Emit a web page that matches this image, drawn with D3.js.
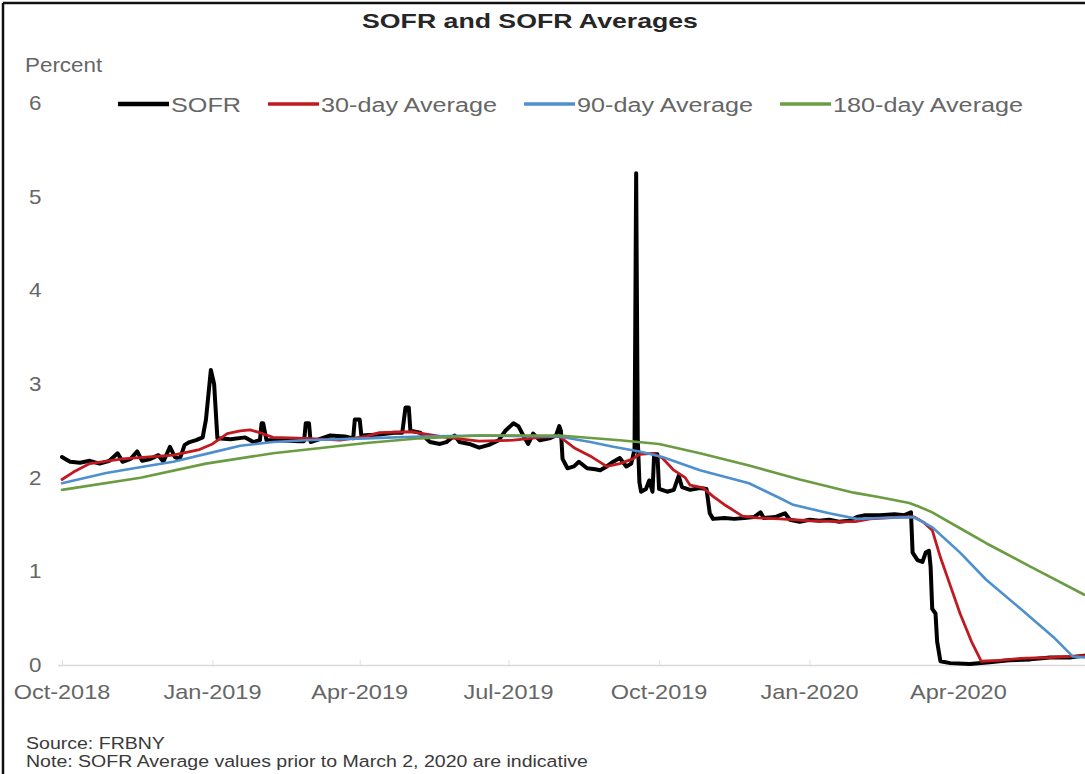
<!DOCTYPE html>
<html>
<head>
<meta charset="utf-8">
<script src="https://cdn.jsdelivr.net/npm/d3@7"></script>
<style>
  html, body { margin: 0; padding: 0; background: #fff; }
  svg { display: block; font-family: "Liberation Sans", Arial, sans-serif; }
</style>
</head>
<body>
<svg id="chart" width="1085" height="774"></svg>
<script>
// ---------------- DATA ----------------
const seriesNames = ["SOFR", "30-day Average", "90-day Average", "180-day Average"];

const sofr = [
  ["2018-10-01",2.22],["2018-10-03",2.20],["2018-10-06",2.17],["2018-10-12",2.16],["2018-10-18",2.18],
  ["2018-10-24",2.15],["2018-10-30",2.18],["2018-11-04",2.26],["2018-11-07",2.17],["2018-11-12",2.20],
  ["2018-11-16",2.28],["2018-11-19",2.18],["2018-11-24",2.20],["2018-11-29",2.24],["2018-12-02",2.17],
  ["2018-12-06",2.33],["2018-12-09",2.22],["2018-12-12",2.20],["2018-12-15",2.35],["2018-12-18",2.38],
  ["2018-12-22",2.40],["2018-12-26",2.43],["2018-12-28",2.62],["2018-12-31",3.15],["2019-01-02",3.00],
  ["2019-01-04",2.42],["2019-01-12",2.41],["2019-01-21",2.43],["2019-01-26",2.38],["2019-01-30",2.40],
  ["2019-01-31",2.58],["2019-02-01",2.58],["2019-02-03",2.40],["2019-02-11",2.40],["2019-02-23",2.39],
  ["2019-02-26",2.39],["2019-02-27",2.58],["2019-03-01",2.58],["2019-03-02",2.38],["2019-03-14",2.45],
  ["2019-03-23",2.44],["2019-03-28",2.42],["2019-03-29",2.62],["2019-04-01",2.62],["2019-04-02",2.45],
  ["2019-04-13",2.46],["2019-04-22",2.48],["2019-04-27",2.48],["2019-04-29",2.75],["2019-05-01",2.75],
  ["2019-05-02",2.50],["2019-05-08",2.48],["2019-05-14",2.38],["2019-05-20",2.36],["2019-05-24",2.38],
  ["2019-05-29",2.45],["2019-06-01",2.38],["2019-06-07",2.36],["2019-06-13",2.32],["2019-06-19",2.35],
  ["2019-06-25",2.40],["2019-06-29",2.50],["2019-07-04",2.58],["2019-07-07",2.55],["2019-07-10",2.45],
  ["2019-07-13",2.36],["2019-07-16",2.47],["2019-07-20",2.40],["2019-07-26",2.42],["2019-07-30",2.45],
  ["2019-08-01",2.55],["2019-08-02",2.50],["2019-08-03",2.20],["2019-08-06",2.10],["2019-08-10",2.12],
  ["2019-08-13",2.17],["2019-08-18",2.10],["2019-08-23",2.09],["2019-08-26",2.08],["2019-08-30",2.12],
  ["2019-09-03",2.17],["2019-09-07",2.21],["2019-09-11",2.12],["2019-09-14",2.15],["2019-09-16",2.30],
  ["2019-09-17",5.25],["2019-09-18",2.40],["2019-09-19",1.95],["2019-09-20",1.85],["2019-09-23",1.88],
  ["2019-09-25",1.97],["2019-09-27",1.85],["2019-09-28",2.25],["2019-09-30",2.25],["2019-10-01",1.88],
  ["2019-10-06",1.85],["2019-10-10",1.87],["2019-10-13",2.02],["2019-10-15",1.90],["2019-10-20",1.87],
  ["2019-10-26",1.89],["2019-10-30",1.88],["2019-11-01",1.62],["2019-11-03",1.56],["2019-11-10",1.57],
  ["2019-11-16",1.56],["2019-11-22",1.57],["2019-11-28",1.58],["2019-12-02",1.63],["2019-12-04",1.57],
  ["2019-12-11",1.58],["2019-12-14",1.60],["2019-12-17",1.62],["2019-12-20",1.55],["2019-12-26",1.53],
  ["2020-01-01",1.55],["2020-01-07",1.54],["2020-01-13",1.55],["2020-01-19",1.53],["2020-01-25",1.54],
  ["2020-01-30",1.58],["2020-02-04",1.60],["2020-02-13",1.60],["2020-02-22",1.61],["2020-02-28",1.60],
  ["2020-03-03",1.63],["2020-03-04",1.20],["2020-03-07",1.12],["2020-03-10",1.10],["2020-03-12",1.20],
  ["2020-03-14",1.22],["2020-03-15",1.05],["2020-03-16",0.60],["2020-03-18",0.55],["2020-03-19",0.25],
  ["2020-03-21",0.04],["2020-03-27",0.02],["2020-04-08",0.01],["2020-04-20",0.03],["2020-05-02",0.05],
  ["2020-05-15",0.06],["2020-05-27",0.08],["2020-06-08",0.08],["2020-06-17",0.10]
];

const avg30 = [
  ["2018-10-01",1.98],["2018-10-08",2.06],["2018-10-18",2.15],["2018-11-07",2.20],["2018-12-08",2.24],
  ["2018-12-24",2.30],["2019-01-01",2.36],["2019-01-10",2.47],["2019-01-18",2.50],["2019-01-24",2.51],
  ["2019-01-30",2.48],["2019-02-07",2.43],["2019-02-27",2.42],["2019-03-20",2.40],["2019-04-05",2.44],
  ["2019-04-13",2.48],["2019-05-03",2.49],["2019-05-24",2.43],["2019-06-13",2.39],["2019-07-04",2.40],
  ["2019-07-20",2.43],["2019-08-01",2.44],["2019-08-10",2.32],["2019-08-21",2.22],["2019-08-30",2.12],
  ["2019-09-07",2.15],["2019-09-15",2.20],["2019-09-19",2.25],["2019-09-27",2.26],["2019-10-03",2.21],
  ["2019-10-10",2.08],["2019-10-17",2.00],["2019-10-20",1.92],["2019-10-28",1.89],["2019-11-03",1.80],
  ["2019-11-11",1.70],["2019-11-21",1.59],["2019-11-30",1.57],["2019-12-14",1.56],["2020-01-01",1.54],
  ["2020-01-19",1.53],["2020-01-29",1.53],["2020-02-07",1.56],["2020-02-26",1.58],["2020-03-05",1.58],
  ["2020-03-11",1.52],["2020-03-16",1.44],["2020-03-21",1.15],["2020-03-27",0.85],["2020-04-02",0.55],
  ["2020-04-09",0.25],["2020-04-15",0.04],["2020-04-26",0.05],["2020-05-09",0.07],["2020-05-27",0.08],
  ["2020-06-17",0.10]
];

const avg90 = [
  ["2018-10-01",1.94],["2018-10-28",2.05],["2018-11-24",2.13],["2018-12-08",2.17],["2019-01-01",2.27],
  ["2019-01-18",2.34],["2019-02-07",2.38],["2019-02-27",2.40],["2019-04-05",2.42],["2019-05-08",2.44],
  ["2019-06-13",2.45],["2019-08-01",2.44],["2019-08-20",2.38],["2019-09-03",2.33],["2019-09-19",2.28],
  ["2019-10-03",2.22],["2019-10-26",2.08],["2019-11-25",1.94],["2019-12-14",1.78],["2019-12-22",1.71],
  ["2020-01-13",1.62],["2020-01-30",1.56],["2020-02-13",1.57],["2020-03-04",1.58],["2020-03-08",1.55],
  ["2020-03-16",1.47],["2020-04-02",1.20],["2020-04-18",0.91],["2020-05-09",0.60],["2020-05-29",0.30],
  ["2020-06-10",0.09],["2020-06-17",0.08]
];

const avg180 = [
  ["2018-10-01",1.87],["2018-11-18",2.00],["2018-12-28",2.15],["2019-02-07",2.26],["2019-04-05",2.37],
  ["2019-05-08",2.42],["2019-06-13",2.45],["2019-08-01",2.45],["2019-09-07",2.40],["2019-10-01",2.36],
  ["2019-10-26",2.26],["2019-11-25",2.13],["2019-12-26",1.98],["2020-01-28",1.84],["2020-02-13",1.79],
  ["2020-03-02",1.73],["2020-03-08",1.69],["2020-03-16",1.63],["2020-04-02",1.46],["2020-04-18",1.30],
  ["2020-05-15",1.05],["2020-06-17",0.75]
];

const xTickDates = ["2018-10-01","2019-01-01","2019-04-01","2019-07-01","2019-10-01","2020-01-01","2020-04-01"];
const yTicks = [0, 1, 2, 3, 4, 5, 6];
const titleText = "SOFR and SOFR Averages";
const unitText = "Percent";
const sourceText = "Source: FRBNY";
const noteText = "Note: SOFR Average values prior to March 2, 2020 are indicative";

// ---------------- STYLE ----------------
const colors = ["#000000", "#c0191f", "#4d8fcf", "#6a9c42"];
const widths = [4, 2.8, 2.6, 2.6];
const textGrey = "#666666";

// ---------------- DRAW ----------------
const parse = d3.utcParse("%Y-%m-%d");
const series = [sofr, avg30, avg90, avg180].map(arr => arr.map(([d, v]) => ({date: parse(d), value: v})));

const svg = d3.select("#chart");

const x = d3.scaleUtc()
  .domain([parse("2018-10-01"), parse("2020-06-18")])
  .range([62, 1086]);
const y = d3.scaleLinear().domain([0, 6]).range([665, 103]);

function stext(g, px, py, str, o) {
  return g.append("text")
    .attr("transform", `translate(${px},${py}) scale(${o.sx || 1},1)`)
    .attr("text-anchor", o.anchor || "start")
    .attr("font-size", o.size)
    .attr("font-weight", o.weight || "normal")
    .attr("fill", o.fill || textGrey)
    .text(str);
}

// frame
svg.append("line").attr("x1", 3).attr("x2", 1085).attr("y1", 3).attr("y2", 3)
  .attr("stroke", "#111").attr("stroke-width", 2.5);
svg.append("line").attr("x1", 3).attr("x2", 3).attr("y1", 3).attr("y2", 774)
  .attr("stroke", "#111").attr("stroke-width", 2.5);

// title
stext(svg, 530, 28, titleText, {size: 21, weight: "bold", fill: "#262626", anchor: "middle", sx: 1.27});
stext(svg, 25, 72, unitText, {size: 20, sx: 1.12});

// x axis
const xAxis = d3.axisBottom(x)
  .tickValues(xTickDates.map(parse))
  .tickFormat(d3.utcFormat("%b-%Y"))
  .tickSize(-5)
  .tickPadding(0);
const gx = svg.append("g").attr("transform", `translate(0,${y(0)})`).call(xAxis);
gx.select(".domain").attr("stroke", "#d9d9d9").attr("stroke-width", 1.5)
  .attr("d", `M58,0.5H1086`);
gx.selectAll(".tick line").attr("stroke", "#e0e0e0");
gx.selectAll(".tick text").remove();
xTickDates.forEach(d => {
  stext(svg, x(parse(d)), 699, d3.utcFormat("%b-%Y")(parse(d)), {size: 21, anchor: "middle", sx: 1.12});
});

// y axis labels
const yAxis = d3.axisLeft(y).tickValues(yTicks).tickSize(0);
const gy = svg.append("g").attr("transform", "translate(30,0)").call(yAxis);
gy.select(".domain").remove();
gy.selectAll(".tick text").remove();
yTicks.forEach(v => {
  stext(svg, 29, y(v) + 7, String(v), {size: 20, sx: 1.12});
});

// lines
const line = d3.line().x(d => x(d.date)).y(d => y(d.value));
[0, 1, 2, 3].forEach(i => {
  svg.append("path")
    .datum(series[i])
    .attr("fill", "none")
    .attr("stroke", colors[i])
    .attr("stroke-width", widths[i])
    .attr("stroke-linejoin", "round")
    .attr("stroke-linecap", "round")
    .attr("d", line);
});

// legend
let lx = 118;
const ly = 104;
const legSx = 1.2;
seriesNames.forEach((name, i) => {
  svg.append("line").attr("x1", lx).attr("x2", lx + 51).attr("y1", ly).attr("y2", ly)
    .attr("stroke", colors[i]).attr("stroke-width", i === 0 ? 4.5 : 3.5);
  const t = stext(svg, lx + 53, ly + 8, name, {size: 21, sx: legSx});
  const w = t.node().getComputedTextLength() * legSx;
  lx = lx + 53 + w + 27;
});

// notes
stext(svg, 26, 749, sourceText, {size: 17, sx: 1.15, fill: "#3a3a3a"});
stext(svg, 26, 767, noteText, {size: 17, sx: 1.15, fill: "#3a3a3a"});
</script>
</body>
</html>
